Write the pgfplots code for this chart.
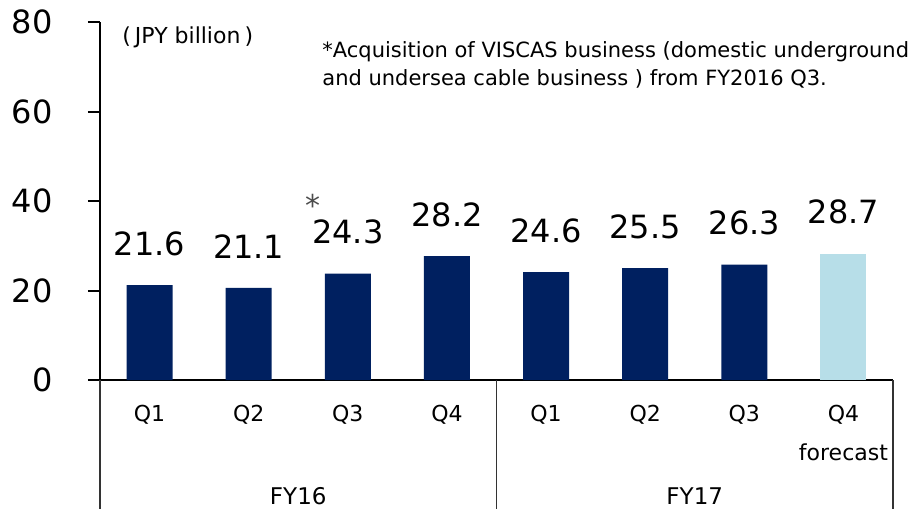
\documentclass[border=0pt]{standalone}
\usepackage{fontspec}
\setmainfont{DejaVu Sans}
\usepackage{pgfplots}
\pgfplotsset{compat=1.18}
\definecolor{navy}{HTML}{002060}
\definecolor{lightblue}{HTML}{B7DEE8}

\begin{document}
\begin{tikzpicture}
\begin{axis}[
  at={(0,0)}, anchor=south west,
  width=396.5pt, height=179pt, scale only axis,
  xmin=0, xmax=8, ymin=0, ymax=80,
  axis lines*=left,
  axis line style={line width=1pt, black},
  ytick={0,20,40,60,80},
  tick align=outside, major tick length=6pt,
  ytick style={line width=1pt, black},
  xtick={0.5,1.5,...,7.5},
  xtick style={draw=none},
  xticklabels={Q1,Q2,Q3,Q4,Q1,Q2,Q3,{Q4\\[8pt]forecast}},
  xticklabel style={align=center, inner sep=0pt, font=\fontsize{11}{11.5}\selectfont, anchor=north, yshift=-6.5pt},
  yticklabel style={anchor=east, inner sep=0pt, xshift=-17.5pt, font=\fontsize{16}{19}\selectfont},
  /pgf/number format/assume math mode=true,
  ybar, bar width=23pt, bar shift=0pt,
  point meta=explicit symbolic,
  nodes near coords,
  every node near coord/.append style={anchor=south, inner sep=0pt, yshift=14.5pt, font=\fontsize{16}{19}\selectfont, black},
  clip=false,
]
% bar heights as drawn, labels as printed
\addplot[fill=navy, draw=none] coordinates {
  (0.5,21.2) [21.6] (1.5,20.6) [21.1] (2.5,23.8) [24.3] (3.5,27.7) [28.2]
  (4.5,24.1) [24.6] (5.5,25.0) [25.5] (6.5,25.8) [26.3]};
\addplot[fill=lightblue, draw=none] coordinates {(7.5,28.2) [28.7]};
\pgfplotsinvokeforeach{0,4,8}{
  \draw[line width=0.6pt, black!80] (axis cs:#1,0) -- ++(0,-64.5pt);
}
\node[anchor=base, inner sep=0pt, font=\fontsize{11.5}{12}\selectfont] at ([yshift=-62pt]axis cs:2,0) {FY16};
\node[anchor=base, inner sep=0pt, font=\fontsize{11.5}{12}\selectfont] at ([yshift=-62pt]axis cs:6,0) {FY17};
\node[anchor=base, inner sep=0pt, text=black!70, font=\fontsize{15}{18}\selectfont] at (axis cs:2.15,36.6) {*};
\end{axis}
\node[anchor=base west, inner sep=0pt, font=\fontsize{11}{12}\selectfont] at (11pt,168pt) {(\hspace{2pt}JPY billion\hspace{2pt})};
\node[anchor=base west, inner sep=0pt, align=left, font=\fontsize{10.5}{14}\selectfont] at (111pt,147pt)
  {*Acquisition of VISCAS business (domestic underground\\and undersea cable business ) from FY2016 Q3.};
\path (-50pt,-64.5pt) rectangle (405pt,190pt);
\end{tikzpicture}
\end{document}
